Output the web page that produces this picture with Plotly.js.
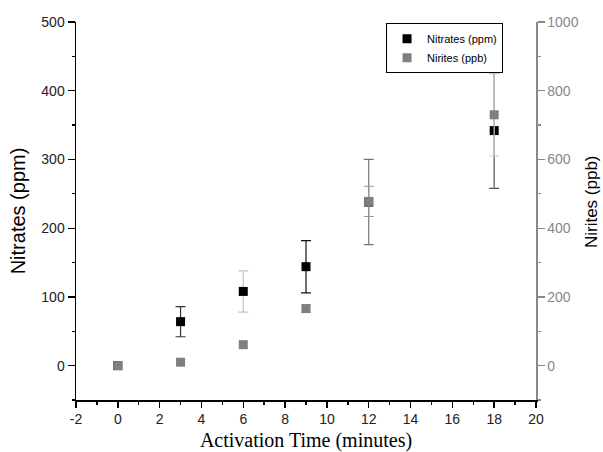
<!DOCTYPE html>
<html>
<head>
<meta charset="utf-8">
<script src="https://cdn.plot.ly/plotly-3.0.1.min.js"></script>
<style>html,body{margin:0;padding:0;background:#fff;overflow:hidden;}#chart{width:603px;height:452px;}</style>
</head>
<body>
<div id="chart"></div>
<script>
// Data
const time = [0, 3, 6, 9, 12, 18];
const nitrates = [0, 64, 108, 144, 238, 342];      // ppm (left axis)
const nitratesErr = [0, 22, 30, 38, 62, 84];
const nitrites = [0, 10, 61, 166, 478, 730];       // ppb (right axis)
const nitritesErr = [0, 0, 0, 10, 44, 120];
const xTicks = [-2, 0, 2, 4, 6, 8, 10, 12, 14, 16, 18, 20];

// error bar colour per point (style)
const nitratesErrColor = ['#000', '#333', '#c4c4c4', '#111', '#777', '#555'];
const nitritesErrColor = ['#999', '#999', '#999', '#aaa', '#999', '#c8c8c8'];

const traces = [];
time.forEach((t, i) => {
  if (nitratesErr[i] > 0) {
    traces.push({
      x: [t], y: [nitrates[i]], type: 'scatter', mode: 'markers',
      marker: {opacity: 0, size: 1}, showlegend: false, hoverinfo: 'skip',
      error_y: {type: 'data', array: [nitratesErr[i]], color: nitratesErrColor[i], thickness: 1.2, width: 5}
    });
  }
});
time.forEach((t, i) => {
  if (nitritesErr[i] > 0) {
    traces.push({
      x: [t], y: [nitrites[i]], yaxis: 'y2', type: 'scatter', mode: 'markers',
      marker: {opacity: 0, size: 1}, showlegend: false, hoverinfo: 'skip',
      error_y: {type: 'data', array: [nitritesErr[i]], color: nitritesErrColor[i], thickness: 1.2, width: 5}
    });
  }
});
traces.push({
  x: time, y: nitrates, name: 'Nitrates (ppm)', type: 'scatter', mode: 'markers',
  marker: {symbol: 'square', size: 9, color: '#000'}
});
traces.push({
  x: time, y: nitrites, name: 'Nirites (ppb)', yaxis: 'y2', type: 'scatter', mode: 'markers',
  marker: {symbol: 'square', size: 9, color: '#808080'}
});

const sans = 'Liberation Sans, Arial, sans-serif';
const tickFont = {family: sans, size: 14, color: '#222'};
const layout = {
  width: 603, height: 452,
  margin: {l: 76, r: 67, t: 22, b: 52},
  paper_bgcolor: '#fff', plot_bgcolor: '#fff',
  showlegend: true,
  legend: {
    x: 0.674, y: 0.997, xanchor: 'left', yanchor: 'top',
    bgcolor: '#fff', bordercolor: '#000', borderwidth: 1,
    font: {family: sans, size: 11, color: '#000'},
    itemwidth: 30, tracegroupgap: 0
  },
  xaxis: {
    range: [-2, 20], tickvals: xTicks, ticktext: xTicks.map(String),
    showgrid: false, zeroline: false, showline: true, linecolor: '#000', linewidth: 1.5,
    ticks: 'outside', ticklen: 6, tickwidth: 1.5, tickcolor: '#000',
    minor: {dtick: 1, ticks: 'outside', ticklen: 3, tickcolor: '#000', showgrid: false},
    tickfont: tickFont,
    title: {text: 'Activation Time (minutes)', font: {family: 'Liberation Serif, Times New Roman, serif', size: 20, color: '#000'}, standoff: 9}
  },
  yaxis: {
    range: [-50, 500], tickvals: [0, 100, 200, 300, 400, 500],
    showgrid: false, zeroline: false, showline: true, linecolor: '#000', linewidth: 1.5,
    ticks: 'outside', ticklen: 7, tickwidth: 1.2, tickcolor: '#000',
    minor: {dtick: 50, ticks: 'outside', ticklen: 3, tickcolor: '#000', showgrid: false},
    tickfont: tickFont,
    title: {text: 'Nitrates (ppm)', font: {family: sans, size: 20, color: '#000'}, standoff: 10}
  },
  yaxis2: {
    overlaying: 'y', side: 'right', range: [-100, 1000],
    tickvals: [0, 200, 400, 600, 800, 1000],
    showgrid: false, zeroline: false, showline: true, linecolor: '#888', linewidth: 1.5,
    ticks: 'outside', ticklen: 7, tickwidth: 1.2, tickcolor: '#888',
    minor: {dtick: 100, ticks: 'outside', ticklen: 3, tickcolor: '#888', showgrid: false},
    tickfont: {family: sans, size: 14, color: '#888'}
  },
  annotations: [{
    text: 'Nirites (ppb)', textangle: -90, showarrow: false,
    xref: 'paper', yref: 'paper', x: 1.122, y: 0.524, xanchor: 'center', yanchor: 'middle',
    font: {family: sans, size: 17, color: '#000'}
  }]
};

Plotly.newPlot('chart', traces, layout, {displayModeBar: false, staticPlot: true});
</script>
</body>
</html>
